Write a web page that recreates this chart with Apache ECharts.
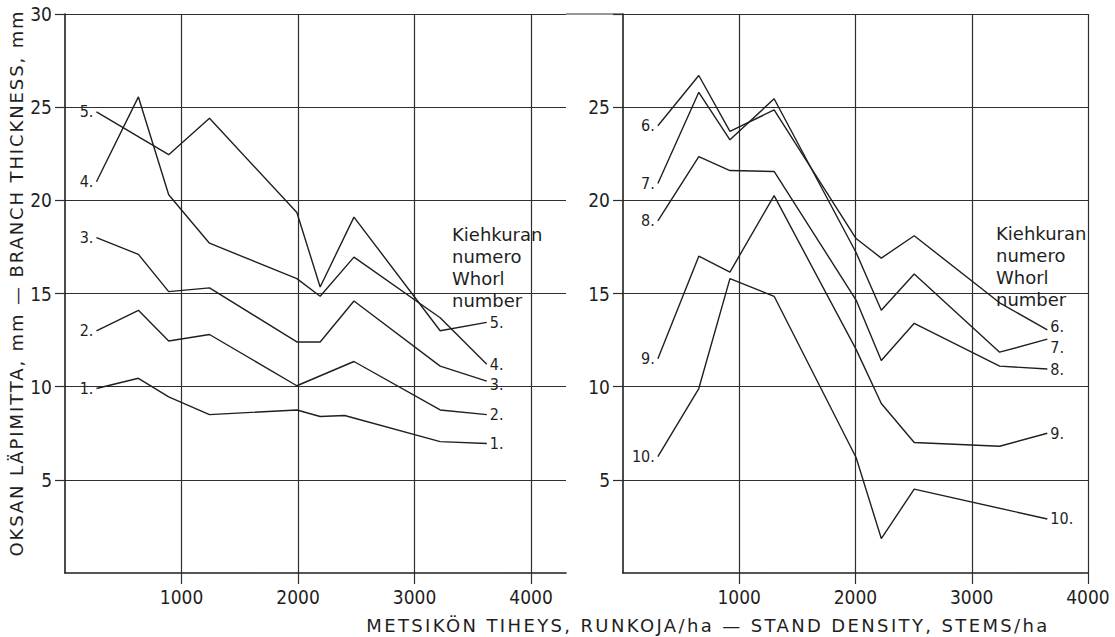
<!DOCTYPE html>
<html>
<head>
<meta charset="utf-8">
<script src="https://cdn.jsdelivr.net/npm/echarts@6/dist/echarts.min.js"></script>
<style>
  html, body { margin: 0; padding: 0; background: #fff; }
  #chart { width: 1115px; height: 637px; }
</style>
</head>
<body>
<div id="chart"></div>
<script>
// Stand density (stems/ha) at which each whorl curve has a vertex
const densityLeft  = [270, 630, 890, 1240, 1990, 2190, 2400, 2480, 3220, 3620];
const densityRight = [300, 652, 920, 1300, 2005, 2222, 2505, 3240, 3650];

// Branch thickness (mm) per whorl number; null = no vertex at that density
const whorl1  = [9.9, 10.45, 9.45, 8.5, 8.75, 8.4, 8.45, null, 7.05, 6.95];
const whorl2  = [13.0, 14.1, 12.45, 12.8, 10.05, null, null, 11.35, 8.75, 8.5];
const whorl3  = [18.0, 17.1, 15.1, 15.3, 12.4, 12.4, null, 14.6, 11.1, 10.3];
const whorl4  = [21.0, 25.55, 20.3, 17.7, 15.8, 14.85, null, 16.95, 13.7, 11.2];
const whorl5  = [24.75, null, 22.45, 24.4, 19.35, 15.35, null, 19.1, 13.0, 13.45];

const whorl6  = [24.0, 26.7, 23.7, 24.85, 17.95, 16.9, 18.1, 14.5, 13.05];
const whorl7  = [20.9, 25.8, 23.25, 25.45, 17.2, 14.1, 16.05, 11.85, 12.55];
const whorl8  = [18.9, 22.35, 21.6, 21.55, 14.65, 11.4, 13.4, 11.1, 10.95];
const whorl9  = [11.5, 17.0, 16.15, 20.25, 12.0, 9.1, 7.0, 6.8, 7.5];
const whorl10 = [6.25, 9.9, 15.8, 14.85, 6.2, 1.85, 4.5, null, 2.9];

// Axis ticks and texts
const xTicks = [1000, 2000, 3000, 4000];
const yTicksLeft = [5, 10, 15, 20, 25, 30];
const yLabelsRight = [5, 10, 15, 20, 25];
const legendLines = ['Kiehkuran', 'numero', 'Whorl', 'number'];
const xTitle = 'METSIKÖN TIHEYS, RUNKOJA/ha — STAND DENSITY, STEMS/ha';
const yTitle = 'OKSAN LÄPIMITTA, mm — BRANCH THICKNESS, mm';

const INK = '#1f1f1f';
const GRID_INK = '#2e2e2e';
const FONT = "'DejaVu Sans', 'Liberation Sans', sans-serif";
const NUM_FONT = "'DejaVu Sans Condensed', 'DejaVu Sans', sans-serif";

// Tracked (letter-spaced) span of the two axis titles, in px
const titleSpans = {};
titleSpans[xTitle] = 681;
titleSpans[yTitle] = 545;

const labelStyle = { color: INK, fontFamily: NUM_FONT, fontSize: 16, lineHeight: 15, distance: 3 };

function whorlSeries(num, xs, ys, panel, endShift) {
  const pts = [];
  xs.forEach((x, i) => { if (ys[i] != null) pts.push([x, ys[i]]); });
  const tag = num + '.';
  const lastIdx = pts.length - 1;
  const data = pts.map((p, i) => {
    const item = { value: p };
    if (i === 0) {
      item.label = Object.assign({ show: true, position: 'left', formatter: tag }, labelStyle);
    } else if (i === lastIdx) {
      item.label = Object.assign({ show: true, position: 'right', formatter: tag }, labelStyle);
    }
    return item;
  });
  return {
    name: 'Whorl ' + num,
    type: 'line',
    xAxisIndex: panel,
    yAxisIndex: panel,
    data: data,
    symbol: 'circle',
    symbolSize: 0.1,
    itemStyle: { color: INK },
    lineStyle: { color: INK, width: 1.4 },
    // nudge the end tag vertically where neighbouring tags crowd
    labelLayout: params => (params.dataIndex === lastIdx && endShift) ? { dy: endShift } : {},
    emphasis: { disabled: true },
    silent: true,
    z: 3
  };
}

const plainNumber = v => String(v);

function xAxisDef(grid, max) {
  return {
    type: 'value', gridIndex: grid, min: 0, max: max, interval: 1000,
    axisLine: { show: true, onZero: false, lineStyle: { color: INK, width: 1.6 } },
    axisTick: { show: true, inside: false, length: 11, customValues: xTicks,
                lineStyle: { color: GRID_INK, width: 1.2 } },
    axisLabel: { show: true, customValues: xTicks, margin: 14, color: INK,
                 fontFamily: NUM_FONT, fontSize: 19, formatter: plainNumber },
    splitLine: { show: true, lineStyle: { color: GRID_INK, width: 1.2 } }
  };
}

function yAxisDef(grid, labels) {
  return {
    type: 'value', gridIndex: grid, min: 0, max: 30, interval: 5,
    axisLine: { show: true, onZero: false, lineStyle: { color: INK, width: 1.6 } },
    axisTick: { show: true, inside: false, length: 10, customValues: yTicksLeft,
                lineStyle: { color: GRID_INK, width: 1.2 } },
    axisLabel: { show: true, customValues: labels, margin: 13, color: INK,
                 fontFamily: NUM_FONT, fontSize: 19, formatter: plainNumber },
    splitLine: { show: true, lineStyle: { color: GRID_INK, width: 1.2 } }
  };
}

const chart = echarts.init(document.getElementById('chart'), null, { renderer: 'svg' });

chart.setOption({
  backgroundColor: '#ffffff',
  animation: false,
  grid: [
    { left: 65, top: 14, width: 501, height: 559 },
    { left: 623, top: 14, width: 465, height: 559 }
  ],
  xAxis: [xAxisDef(0, 4300), xAxisDef(1, 4000)],
  yAxis: [yAxisDef(0, yTicksLeft), yAxisDef(1, yLabelsRight)],
  series: [
    whorlSeries(1, densityLeft, whorl1, 0),
    whorlSeries(2, densityLeft, whorl2, 0),
    whorlSeries(3, densityLeft, whorl3, 0, 3),
    whorlSeries(4, densityLeft, whorl4, 0),
    whorlSeries(5, densityLeft, whorl5, 0),
    whorlSeries(6, densityRight, whorl6, 1, -3),
    whorlSeries(7, densityRight, whorl7, 1, 8),
    whorlSeries(8, densityRight, whorl8, 1, 1),
    whorlSeries(9, densityRight, whorl9, 1),
    whorlSeries(10, densityRight, whorl10, 1)
  ]
});

// Top border runs unbroken across both panels
const topLeft = chart.convertToPixel({ gridIndex: 0 }, [4300, 30]);
const topRight = chart.convertToPixel({ gridIndex: 1 }, [0, 30]);

chart.setOption({
  graphic: [
    {
      type: 'line', silent: true, z: 2,
      shape: { x1: topLeft[0], y1: topLeft[1], x2: topRight[0], y2: topRight[1] },
      style: { stroke: GRID_INK, lineWidth: 1.2 }
    },
    {
      type: 'text', silent: true, x: 708, y: 625,
      style: { text: xTitle, fill: INK, fontFamily: FONT, fontSize: 18,
               align: 'center', verticalAlign: 'middle' }
    },
    {
      type: 'text', silent: true, x: 16, y: 283, rotation: Math.PI / 2,
      style: { text: yTitle, fill: INK, fontFamily: FONT, fontSize: 18,
               align: 'center', verticalAlign: 'middle' }
    },
    {
      type: 'text', silent: true, x: 452, y: 223,
      style: { text: legendLines.join('\n'), fill: INK, fontFamily: FONT, fontSize: 18,
               lineHeight: 22, align: 'left', verticalAlign: 'top' }
    },
    {
      type: 'text', silent: true, x: 996, y: 222,
      style: { text: legendLines.join('\n'), fill: INK, fontFamily: FONT, fontSize: 18,
               lineHeight: 22, align: 'left', verticalAlign: 'top' }
    }
  ]
});

// Spread the axis-title letters over their full span
function trackTitles() {
  document.querySelectorAll('#chart svg text').forEach(t => {
    const s = t.textContent;
    const span = titleSpans[s];
    if (!span || t.getAttribute('data-tracked')) return;
    t.setAttribute('letter-spacing', '0');
    const natural = t.getComputedTextLength();
    const ls = (span - natural) / (s.length - 1);
    t.setAttribute('letter-spacing', ls.toFixed(2));
    t.setAttribute('data-tracked', '1');
  });
}
trackTitles();
chart.on('finished', trackTitles);
</script>
</body>
</html>
